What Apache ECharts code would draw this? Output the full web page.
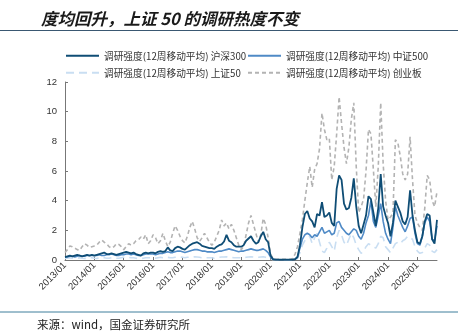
<!DOCTYPE html>
<html><head><meta charset="utf-8">
<script src="https://cdn.jsdelivr.net/npm/echarts@6/dist/echarts.min.js"></script>
<style>html,body{margin:0;padding:0;background:#fff}#c{width:473px;height:332px}</style>
</head><body><div id="c"></div>
<script>
// monthly categories 2013/01 .. 2025/09
var categories = [];
for (var y = 2013; y <= 2025; y++) { for (var mo = 1; mo <= 12; mo++) { if (y === 2025 && mo > 9) break; categories.push(y + '/' + (mo < 10 ? '0' + mo : mo)); } }

var yTicks = [0, 2, 4, 6, 8, 10, 12];

var hs300 = [
0.2,0.25,0.3,0.25,0.3,0.35,0.3,0.25,0.3,0.35,0.3,0.35,
0.3,0.35,0.4,0.45,0.5,0.4,0.4,0.45,0.4,0.35,0.4,0.45,
0.5,0.55,0.5,0.45,0.5,0.4,0.35,0.3,0.45,0.5,0.45,0.5,
0.5,0.45,0.55,0.6,0.55,0.6,0.85,0.65,0.6,0.8,0.9,0.85,
0.75,0.7,0.85,1.0,1.1,1.15,1.2,1.1,0.95,0.9,0.85,0.8,
0.8,0.75,0.9,1.0,1.05,1.25,1.7,1.3,1.2,1.0,0.9,0.9,
0.9,1.0,1.3,1.45,1.6,1.3,1.1,1.2,1.6,1.9,1.4,1.2,
0.3,0.05,0.03,0.02,0.02,0.02,0.02,0.02,0.03,0.03,0.05,0.2,
1.0,2.2,3.1,3.3,2.8,2.6,2.2,3.1,3.0,3.9,2.9,3.0,
3.2,2.5,2.3,4.8,5.7,5.4,3.8,3.4,3.5,4.2,5.5,3.6,
2.3,1.8,2.4,3.0,4.3,4.1,3.2,2.3,3.5,5.8,3.6,3.0,
2.5,1.6,2.5,4.0,3.6,3.2,2.6,2.4,2.9,4.7,3.0,2.0,
1.2,1.1,1.6,2.6,3.1,3.0,1.4,1.1,2.7
];
var zz500 = [
0.2,0.2,0.25,0.25,0.2,0.25,0.3,0.25,0.25,0.3,0.3,0.3,
0.3,0.3,0.35,0.3,0.3,0.35,0.35,0.4,0.35,0.3,0.3,0.35,
0.35,0.4,0.4,0.35,0.4,0.35,0.3,0.3,0.35,0.4,0.4,0.4,
0.4,0.35,0.4,0.45,0.45,0.5,0.55,0.5,0.5,0.55,0.6,0.6,
0.55,0.5,0.55,0.6,0.65,0.7,0.7,0.65,0.6,0.6,0.55,0.55,
0.55,0.5,0.55,0.6,0.6,0.65,0.7,0.75,0.7,0.65,0.6,0.55,
0.6,0.6,0.65,0.7,0.75,0.7,0.65,0.65,0.7,0.75,0.65,0.5,
0.2,0.05,0.03,0.02,0.02,0.02,0.02,0.02,0.02,0.03,0.05,0.2,
0.8,1.4,1.7,1.8,1.7,1.5,1.7,1.6,1.9,2.2,1.8,1.9,
2.0,1.7,1.8,2.5,2.6,2.2,2.0,1.8,1.7,1.9,2.1,2.0,
1.6,1.4,1.8,2.5,3.0,4.0,2.6,2.2,3.0,3.8,2.6,1.8,
1.4,1.1,2.2,3.6,3.0,2.6,2.2,1.9,2.3,2.8,2.9,1.8,
1.1,1.0,1.6,2.5,2.9,2.6,1.4,1.3,2.3
];
var sz50 = [
0.1,0.12,0.15,0.12,0.1,0.12,0.15,0.12,0.1,0.12,0.15,0.15,
0.12,0.1,0.15,0.18,0.15,0.12,0.12,0.15,0.15,0.12,0.12,0.15,
0.18,0.2,0.18,0.15,0.15,0.12,0.1,0.1,0.12,0.15,0.15,0.15,
0.15,0.12,0.15,0.18,0.15,0.15,0.18,0.15,0.15,0.18,0.2,0.2,
0.18,0.15,0.18,0.2,0.2,0.22,0.2,0.18,0.15,0.15,0.15,0.15,
0.15,0.12,0.15,0.18,0.2,0.2,0.22,0.2,0.18,0.15,0.15,0.15,
0.15,0.15,0.18,0.2,0.22,0.2,0.18,0.18,0.2,0.22,0.18,0.15,
0.1,0.02,0.02,0.02,0.02,0.02,0.02,0.02,0.02,0.02,0.02,0.1,
0.5,1.0,1.3,1.5,1.6,1.1,1.5,1.8,1.2,0.6,0.5,0.8,
1.2,0.9,0.6,1.5,2.0,1.7,1.2,1.0,1.4,1.8,1.5,1.0,
0.7,0.45,0.6,0.9,1.1,1.0,0.9,0.8,1.1,1.6,1.5,0.9,
0.7,0.5,0.8,1.1,1.2,1.1,1.3,1.4,1.6,1.5,1.4,0.9,
0.6,0.45,0.5,0.8,1.1,1.0,0.6,0.5,0.7
];
var cyb = [
0.5,0.7,0.95,0.9,0.8,0.7,0.65,0.9,1.1,1.0,0.85,0.9,
0.95,1.0,1.2,1.35,1.2,1.1,0.9,0.8,0.9,1.1,1.05,0.9,
0.7,0.9,1.1,1.0,1.1,1.3,1.35,1.55,1.4,1.7,1.1,1.3,
1.7,1.5,1.1,1.3,1.8,1.3,0.9,1.2,1.8,2.3,2.0,1.6,
1.3,1.15,1.6,2.2,2.6,2.1,1.5,1.25,1.5,1.8,1.5,1.2,
1.0,1.2,1.6,2.0,2.7,2.3,2.5,2.1,2.4,2.0,1.5,1.0,
0.7,0.9,1.7,2.5,3.0,2.4,1.8,1.2,1.7,2.8,2.4,1.5,
0.4,0.1,0.05,0.05,0.05,0.05,0.05,0.05,0.05,0.1,0.4,0.9,
1.8,2.7,4.0,5.2,6.3,4.9,6.1,6.5,7.5,9.9,8.8,8.1,
8.2,5.4,6.3,8.5,11.0,9.2,7.6,6.5,7.6,9.5,10.6,6.3,
3.2,3.6,4.1,6.0,8.8,8.5,6.1,3.6,6.3,10.6,6.5,4.0,
2.7,2.9,3.15,8.1,7.9,7.0,5.8,5.4,5.8,8.3,5.4,3.0,
2.5,2.2,2.0,3.5,5.7,5.4,4.0,3.6,4.6
];

var names = ['调研强度(12周移动平均) 沪深300','调研强度(12周移动平均) 中证500','调研强度(12周移动平均) 上证50','调研强度(12周移动平均) 创业板'];
var FONT = '"Noto Sans CJK SC", "Liberation Sans", sans-serif';
var chart = echarts.init(document.getElementById('c'), null, {renderer:'canvas'});
function lg(name, left, top) {
  return {data:[name], left:left, top:top, itemWidth:33, itemHeight:10, itemGap:4, padding:0,
    itemStyle:{opacity:0},
    textStyle:{fontSize:9.7, color:'#333', fontFamily:FONT}};
}
chart.setOption({
  animation:false,
  backgroundColor:'#fff',
  title:{text:'度均回升，上证 50 的调研热度不变', left:36, top:5,
    textStyle:{fontSize:16.5, fontWeight:'bold', fontStyle:'italic', color:'#1a1a1a', fontFamily:FONT}},
  graphic:[
    {type:'line', shape:{x1:0,y1:30.5,x2:458,y2:30.5}, style:{stroke:'#3a5872', lineWidth:1.2}},
    {type:'line', shape:{x1:0,y1:312,x2:458,y2:312}, style:{stroke:'#3f7f9c', lineWidth:1}},
    {type:'text', left:37, top:319, style:{text:'来源：wind，国金证券研究所', fill:'#222', font:'11.5px "Noto Sans CJK SC"'}}
  ],
  legend:[lg(names[0],65,51), lg(names[1],247,51), lg(names[2],65,68), lg(names[3],247,68)],
  grid:{left:65, right:36, top:82, bottom:72},
  xAxis:{type:'category', data:categories, boundaryGap:false,
    axisLine:{lineStyle:{color:'#777', width:1}},
    axisTick:{inside:true, length:3, lineStyle:{color:'#777'}, interval:function(i,v){return v.slice(5)==='01';}},
    axisLabel:{rotate:45, fontSize:9.5, color:'#333', fontFamily:'"Liberation Sans", sans-serif', margin:4,
      interval:function(i,v){return v.slice(5)==='01';}},
    splitLine:{show:false}},
  yAxis:{type:'value', min:yTicks[0], max:yTicks[yTicks.length-1], interval:2,
    axisLine:{show:true, lineStyle:{color:'#777', width:1}},
    axisTick:{show:true, inside:true, length:3, lineStyle:{color:'#777'}},
    axisLabel:{fontSize:9.5, color:'#333', margin:8, fontFamily:'"Liberation Sans", sans-serif'},
    splitLine:{show:false}},
  series:[
    {name:names[3], type:'line', data:cyb, symbol:'none', z:1, lineStyle:{color:'#b3b3b3', width:1.6, type:[4,3]}, itemStyle:{color:'#b3b3b3'}},
    {name:names[2], type:'line', data:sz50, symbol:'none', z:2, lineStyle:{color:'#c9def2', width:1.6, type:[8,5]}, itemStyle:{color:'#c9def2'}},
    {name:names[1], type:'line', data:zz500, symbol:'none', z:3, lineStyle:{color:'#4f8ac6', width:1.6}, itemStyle:{color:'#4f8ac6'}},
    {name:names[0], type:'line', data:hs300, symbol:'none', z:4, lineStyle:{color:'#0f4d75', width:1.8}, itemStyle:{color:'#0f4d75'}}
  ]
});
</script></body></html>
